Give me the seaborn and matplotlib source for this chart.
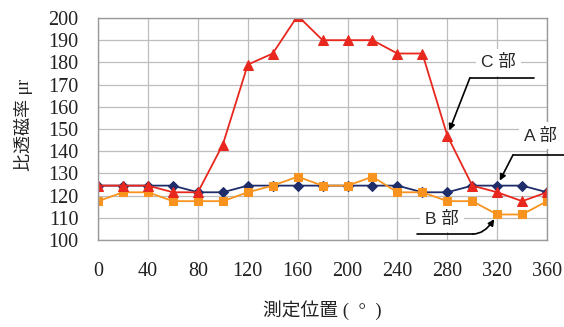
import numpy as np
import pandas as pd
import matplotlib
matplotlib.use("Agg")
import matplotlib.pyplot as plt
import seaborn as sns

# 測定位置 (度)
angles = list(range(0, 361, 20))
# A部, B部, C部 の比透磁率
a_vals = [124.5, 124.5, 124.5, 124.5, 121.5, 121.5, 124.5, 124.5, 124.5, 124.5,
          124.5, 124.5, 124.5, 121.5, 121.5, 124.5, 124.5, 124.5, 121.5]
b_vals = [117.5, 121.5, 121.5, 117.5, 117.5, 117.5, 121.5, 124.5, 128.5, 124.5,
          124.5, 128.5, 121.5, 121.5, 117.5, 117.5, 111.5, 111.5, 117.5]
c_vals = [124.5, 124.5, 124.5, 121.5, 121.5, 143, 179, 184, 201, 190,
          190, 190, 184, 184, 147, 124.5, 121.5, 117.5, 121.5]
x_ticks = list(range(0, 361, 40))
y_ticks = list(range(100, 201, 10))

serif = ["Liberation Serif", "Noto Sans CJK JP"]
sans = ["Liberation Sans", "Noto Sans CJK JP"]

sns.set_theme(style="white")
plt.rcParams["font.family"] = serif

fig = plt.figure(figsize=(5.64, 3.27), dpi=100)
ax = fig.add_axes([0.174, 0.266, 0.796, 0.679])

series = [
    ("A部", a_vals, "#1f2d6b", "D", 5.5),
    ("B部", b_vals, "#f7931e", "s", 6),
    ("C部", c_vals, "#e8281e", "^", 7),
]
for name, vals, col, mk, ms in series:
    df = pd.DataFrame({"angle": angles, "mu": vals})
    sns.lineplot(data=df, x="angle", y="mu", ax=ax, color=col, marker=mk,
                 markersize=ms, markeredgecolor=col, linewidth=1.3)

ax.set_xlim(0, 360)
ax.set_ylim(100, 200)
ax.set_xticks(x_ticks)
ax.set_yticks(y_ticks)
ax.grid(True, color="#bdbdbd", linewidth=0.9)
ax.set_axisbelow(True)
for s in ax.spines.values():
    s.set_color("#9a9a9a")
    s.set_linewidth(1.0)
ax.tick_params(length=0, labelsize=14.5, labelcolor="#222222")
ax.tick_params(axis="x", pad=16)
ax.tick_params(axis="y", pad=14)
for lab in ax.get_xticklabels() + ax.get_yticklabels():
    lab.set_family(serif)

ax.set_xlabel("測定位置 (  °  )", fontsize=13.5, family=serif, labelpad=14, color="#222222")
ax.set_ylabel("比透磁率 μr", fontsize=13, family=serif, color="#222222")
ax.yaxis.set_label_coords(-0.145, 0.52)

box = dict(boxstyle="square,pad=0.3", fc="white", ec="none")
arrow = dict(arrowstyle="-|>", color="black", lw=1.2, mutation_scale=9,
             shrinkA=0, shrinkB=4)

# C部
ax.text(0.891, 0.80, "C 部", transform=ax.transAxes, ha="center", va="center",
        fontsize=12.5, family=sans, bbox=box, zorder=6, clip_on=False)
ax.plot([0.828, 0.97], [0.73, 0.73], transform=ax.transAxes, color="black",
        lw=1.2, clip_on=False, zorder=7)
ax.annotate("", xy=(angles[14], c_vals[14]), xycoords="data",
            xytext=(0.828, 0.73), textcoords="axes fraction",
            arrowprops=arrow, zorder=7, annotation_clip=False)

# A部
ax.text(0.985, 0.47, "A 部", transform=ax.transAxes, ha="center", va="center",
        fontsize=12.5, family=sans, bbox=box, zorder=6, clip_on=False)
ax.plot([0.924, 1.04], [0.383, 0.383], transform=ax.transAxes, color="black",
        lw=1.2, clip_on=False, zorder=7)
ax.annotate("", xy=(angles[16], a_vals[16]), xycoords="data",
            xytext=(0.924, 0.383), textcoords="axes fraction",
            arrowprops=arrow, zorder=7, annotation_clip=False)

# B部
ax.text(0.766, 0.095, "B 部", transform=ax.transAxes, ha="center", va="center",
        fontsize=12.5, family=sans, bbox=box, zorder=6, clip_on=False)
ax.plot([0.71, 0.835], [0.027, 0.027], transform=ax.transAxes, color="black",
        lw=1.2, clip_on=False, zorder=7)
ax.annotate("", xy=(angles[16], b_vals[16]), xycoords="data",
            xytext=(0.835, 0.027), textcoords="axes fraction",
            arrowprops=dict(arrow, connectionstyle="angle3,angleA=0,angleB=60"),
            zorder=7, annotation_clip=False)

fig.savefig("out.png", dpi=100)
